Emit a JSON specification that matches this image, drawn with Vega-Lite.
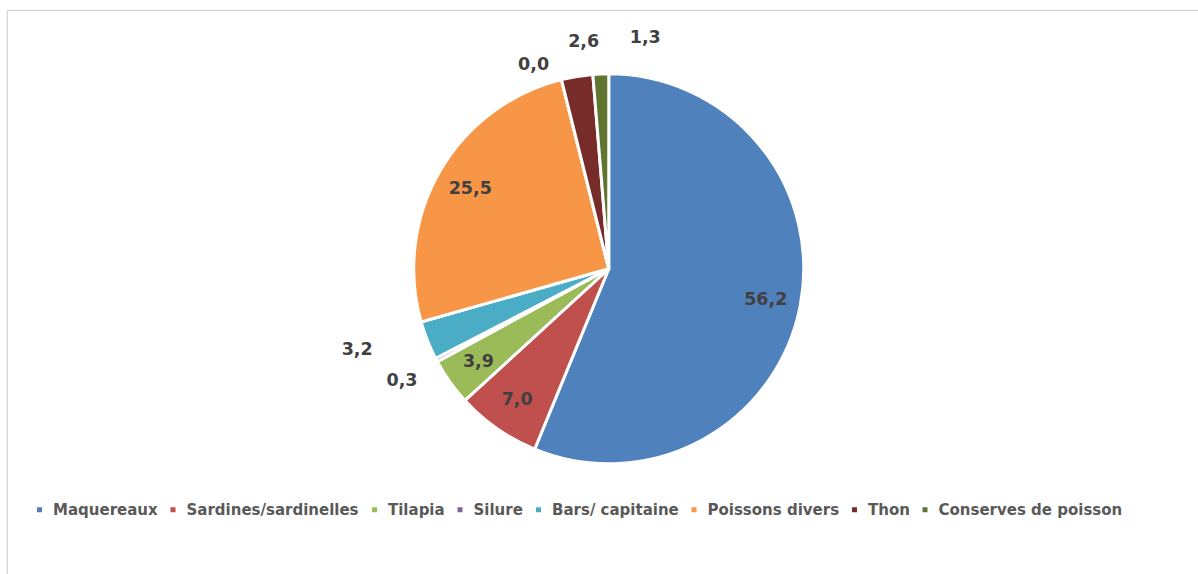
{
  "$schema": "https://vega.github.io/schema/vega-lite/v6.json",
  "width": 1191.5,
  "height": 564.5,
  "autosize": {"type": "none"},
  "padding": {"left": 7, "top": 10, "right": 0, "bottom": 0},
  "background": "white",
  "view": {"stroke": "#d4d4d4", "strokeWidth": 1.2},
  "title": {
    "text": "Cameroun en 2018",
    "anchor": "start",
    "frame": "group",
    "font": "Liberation Sans",
    "fontSize": 26.5,
    "fontWeight": "normal",
    "color": "#000000",
    "baseline": "alphabetic",
    "offset": 0,
    "dx": -19,
    "dy": 25
  },
  "config": {
    "locale": {"number": {"decimal": ",", "thousands": " ", "grouping": [3], "currency": ["", " €"]}}
  },
  "data": {
    "values": [
      {"rang": 1, "nom": "Maquereaux", "part": 56.2},
      {"rang": 2, "nom": "Sardines/sardinelles", "part": 7.0},
      {"rang": 3, "nom": "Tilapia", "part": 3.9},
      {"rang": 4, "nom": "Silure", "part": 0.3},
      {"rang": 5, "nom": "Bars/ capitaine", "part": 3.2},
      {"rang": 6, "nom": "Poissons divers", "part": 25.5},
      {"rang": 7, "nom": "Autres", "part": 0.0},
      {"rang": 8, "nom": "Thon", "part": 2.6},
      {"rang": 9, "nom": "Conserves de poisson", "part": 1.3}
    ]
  },
  "encoding": {
    "theta": {"field": "part", "type": "quantitative", "stack": true},
    "order": {"field": "rang", "type": "quantitative"}
  },
  "layer": [
    {
      "mark": {"type": "arc", "outerRadius": 195, "stroke": "white", "strokeWidth": 3,
               "x": {"expr": "width/2 + 6"}, "y": {"expr": "height/2 - 23.5"}},
      "encoding": {
        "color": {
          "field": "nom", "type": "nominal",
          "scale": {
            "domain": ["Maquereaux", "Sardines/sardinelles", "Tilapia", "Silure", "Bars/ capitaine", "Poissons divers", "Autres", "Thon", "Conserves de poisson"],
            "range": ["#4F81BD", "#C0504D", "#9BBB59", "#8064A2", "#4BACC6", "#F79646", "#A5A5A5", "#772C2A", "#5F7530"]
          },
          "legend": {
            "title": null,
            "values": ["Maquereaux", "Sardines/sardinelles", "Tilapia", "Silure", "Bars/ capitaine", "Poissons divers", "Thon", "Conserves de poisson"],
            "orient": "none",
            "legendX": 25,
            "legendY": 492,
            "direction": "horizontal",
            "columns": 8,
            "symbolType": "square",
            "symbolSize": 25,
            "symbolStrokeWidth": 0,
            "labelFont": "DejaVu Sans",
            "labelFontWeight": "bold",
            "labelFontSize": 15,
            "labelColor": "#595959",
            "labelOffset": 6,
            "labelLimit": 0,
            "columnPadding": 7.5
          }
        }
      }
    },
    {
      "mark": {"type": "text", "radius": 160, "font": "DejaVu Sans", "fontWeight": "bold", "fontSize": 17.5, "color": "#404040",
               "x": {"expr": "width/2 + 6"}, "y": {"expr": "height/2 - 23.5"}},
      "encoding": {"text": {"condition": {"test": "datum.part >= 3.5", "field": "part", "type": "quantitative", "format": ".1f"}, "value": ""}}
    },
    {
      "mark": {"type": "text", "radius": 234, "dy": 3, "font": "DejaVu Sans", "fontWeight": "bold", "fontSize": 17.5, "color": "#404040",
               "x": {"expr": "width/2 + 6"}, "y": {"expr": "height/2 - 23.5"}},
      "encoding": {"text": {"condition": {"test": "datum.nom === 'Silure'", "field": "part", "type": "quantitative", "format": ".1f"}, "value": ""}}
    },
    {
      "mark": {"type": "text", "radius": 262, "dx": -8, "dy": -15, "font": "DejaVu Sans", "fontWeight": "bold", "fontSize": 17.5, "color": "#404040",
               "x": {"expr": "width/2 + 6"}, "y": {"expr": "height/2 - 23.5"}},
      "encoding": {"text": {"condition": {"test": "datum.nom === 'Bars/ capitaine'", "field": "part", "type": "quantitative", "format": ".1f"}, "value": ""}}
    },
    {
      "mark": {"type": "text", "radius": 215, "dx": -23, "dy": 5, "font": "DejaVu Sans", "fontWeight": "bold", "fontSize": 17.5, "color": "#404040",
               "x": {"expr": "width/2 + 6"}, "y": {"expr": "height/2 - 23.5"}},
      "encoding": {"text": {"condition": {"test": "datum.nom === 'Autres'", "field": "part", "type": "quantitative", "format": ".1f"}, "value": ""}}
    },
    {
      "mark": {"type": "text", "radius": 228, "dx": 12, "dy": -2, "font": "DejaVu Sans", "fontWeight": "bold", "fontSize": 17.5, "color": "#404040",
               "x": {"expr": "width/2 + 6"}, "y": {"expr": "height/2 - 23.5"}},
      "encoding": {"text": {"condition": {"test": "datum.nom === 'Thon'", "field": "part", "type": "quantitative", "format": ".1f"}, "value": ""}}
    },
    {
      "mark": {"type": "text", "radius": 232, "dx": 46, "dy": 1, "font": "DejaVu Sans", "fontWeight": "bold", "fontSize": 17.5, "color": "#404040",
               "x": {"expr": "width/2 + 6"}, "y": {"expr": "height/2 - 23.5"}},
      "encoding": {"text": {"condition": {"test": "datum.nom === 'Conserves de poisson'", "field": "part", "type": "quantitative", "format": ".1f"}, "value": ""}}
    }
  ]
}
